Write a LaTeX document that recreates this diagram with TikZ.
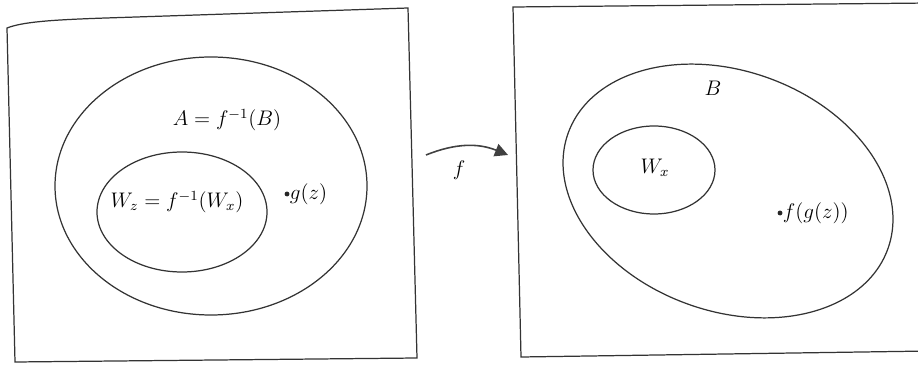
\documentclass[tikz,border=0pt]{standalone}
\usepackage{amsmath}
\usepackage{amssymb}
\usepackage{xcolor}
\usepackage{tikz}
\usetikzlibrary{arrows.meta,shapes.geometric}
\tikzset{
  frame/.style={draw=black!80,line width=0.7pt},
  set/.style={ellipse,draw=black!80,line width=0.7pt,inner sep=0pt},
  lbl/.style={font=\large,inner sep=1pt},
  mapto/.style={draw=black!75,line width=0.9pt,-{Triangle[length=2.6mm,width=2.6mm]}}}
\newcommand{\elem}[3]{%
  \fill[black!85] (#2) circle (1.4pt);
  \node[lbl,anchor=west] (#1) at ([xshift=0.5pt]#2) {$#3$};}

\begin{document}
\begin{tikzpicture}
    \useasboundingbox (0,0) rectangle (18.36,7.42);
    \begin{scope}
    \clip (0,0) rectangle (18.36,7.42);
    % the two spaces
    \draw[frame] (0.30,0.18) -- (0.14,6.86) .. controls (0.45,6.98) and (1.0,7.02) .. (2.0,7.056)
      -- (8.16,7.26) -- (8.34,0.26) -- cycle;
    \draw[frame] (18.6,0.40) -- (10.42,0.28) -- (10.26,7.28) -- (18.6,7.36);
    \end{scope}
    % left: A and W_z
    \node[set,minimum width=6.24cm,minimum height=5.16cm] (A) at (4.22,3.70) {};
    \node[set,minimum width=3.40cm,minimum height=2.40cm] (Wz) at (3.64,3.18) {};
    \node[lbl] (Alab) at (4.54,5.02) {$A=f^{-1}(B)$};
    \node[lbl] (Wzlab) at (3.54,3.38) {$W_z=f^{-1}(W_x)$};
    \coordinate (gz) at (5.74,3.54);
    \elem{gzlab}{gz}{g(z)}
    % right: B and W_x
    \node[set,minimum width=6.80cm,minimum height=4.80cm,rotate=-20] (B) at (14.56,3.60) {};
    \node[set,minimum width=2.44cm,minimum height=1.76cm] (Wx) at (13.08,4.02) {};
    \node[lbl] (Blab) at (14.26,5.66) {$B$};
    \node[lbl] (Wxlab) at (13.10,4.06) {$W_x$};
    \coordinate (fgz) at (15.60,3.16);
    \elem{fgzlab}{fgz}{f(g(z))}
    % the map
    \coordinate (fstart) at (8.52,4.32);
    \coordinate (fend) at (10.16,4.32);
    \draw[mapto] (fstart) to[bend left=22] (fend);
    \node[lbl] (flab) at (9.18,4.02) {$f$};
  \end{tikzpicture}
\end{document}
